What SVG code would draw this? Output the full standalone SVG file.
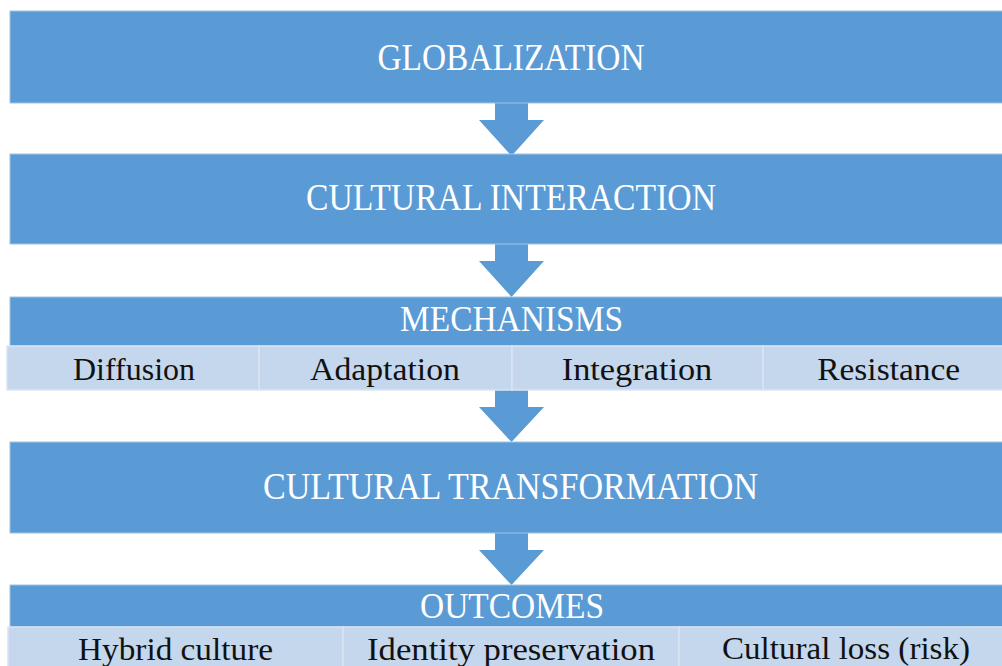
<svg xmlns="http://www.w3.org/2000/svg" width="1002" height="666" viewBox="0 0 1002 666">
<style>
.bar{fill:#5B9BD5;stroke:#9DC3E6;stroke-width:1}
.cell{fill:#C5D7EC;stroke:#DAE5F3;stroke-width:1.5}
.arrow{fill:#5B9BD5}
.t{font-family:"Liberation Serif","Times New Roman",serif;fill:#FFFFFF;text-anchor:middle}
.s{font-family:"Liberation Serif","Times New Roman",serif;fill:#111111;text-anchor:middle;font-size:32px}
</style>
<rect width="1002" height="666" fill="#FFFFFF"/>
<g id="connectors">
<polygon class="arrow" points="495,103 528,103 528,120 544,120 511.5,156 479,120 495,120"/>
<polygon class="arrow" points="495,244 528,244 528,261 544,261 511.5,297 479,261 495,261"/>
<polygon class="arrow" points="495,390 528,390 528,407 544,407 511.5,442 479,407 495,407"/>
<polygon class="arrow" points="495,533 528,533 528,550 544,550 511.5,585 479,550 495,550"/>
</g>
<g id="globalization">
<rect class="bar" x="10" y="11" width="1004" height="92"/>
<text class="t" x="511" y="69.5" font-size="38" textLength="267" lengthAdjust="spacingAndGlyphs">GLOBALIZATION</text>
</g>
<g id="cultural-interaction">
<rect class="bar" x="10" y="154" width="1004" height="90"/>
<text class="t" x="511" y="209.5" font-size="38" textLength="410" lengthAdjust="spacingAndGlyphs">CULTURAL INTERACTION</text>
</g>
<g id="mechanisms">
<rect class="bar" x="10" y="297" width="1004" height="49"/>
<text class="t" x="511.5" y="331" font-size="35" textLength="223" lengthAdjust="spacingAndGlyphs">MECHANISMS</text>
<rect class="cell" x="7" y="346" width="252" height="44"/>
<rect class="cell" x="259" y="346" width="253" height="44"/>
<rect class="cell" x="512" y="346" width="251" height="44"/>
<rect class="cell" x="763" y="346" width="252" height="44"/>
<text class="s" x="134" y="379.5" textLength="122" lengthAdjust="spacingAndGlyphs">Diffusion</text>
<text class="s" x="385" y="379.5" textLength="150" lengthAdjust="spacingAndGlyphs">Adaptation</text>
<text class="s" x="637" y="379.5" textLength="150.5" lengthAdjust="spacingAndGlyphs">Integration</text>
<text class="s" x="888.7" y="379.5" textLength="143" lengthAdjust="spacingAndGlyphs">Resistance</text>
</g>
<g id="cultural-transformation">
<rect class="bar" x="10" y="442" width="1004" height="91"/>
<text class="t" x="510.5" y="498.5" font-size="38" textLength="495" lengthAdjust="spacingAndGlyphs">CULTURAL TRANSFORMATION</text>
</g>
<g id="outcomes">
<rect class="bar" x="10" y="585" width="1004" height="42"/>
<text class="t" x="512" y="617.5" font-size="35" textLength="184" lengthAdjust="spacingAndGlyphs">OUTCOMES</text>
<rect class="cell" x="8" y="627" width="335" height="42"/>
<rect class="cell" x="343" y="627" width="336" height="42"/>
<rect class="cell" x="679" y="627" width="336" height="42"/>
<text class="s" x="175.5" y="660" textLength="195" lengthAdjust="spacingAndGlyphs">Hybrid culture</text>
<text class="s" x="511" y="660" textLength="288" lengthAdjust="spacingAndGlyphs">Identity preservation</text>
<text class="s" x="846" y="659" textLength="248" lengthAdjust="spacingAndGlyphs">Cultural loss (risk)</text>
</g>
</svg>
